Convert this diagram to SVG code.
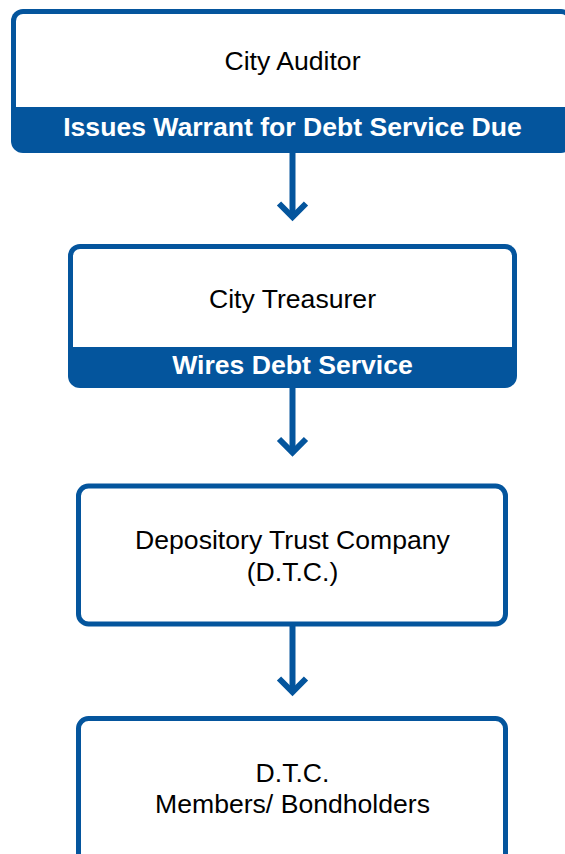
<svg xmlns="http://www.w3.org/2000/svg" width="565" height="854" viewBox="0 0 565 854">
  <defs>
    <style>
      .frame { fill: #04559d; }
      .inner { fill: #ffffff; }
      .box { fill: #ffffff; stroke: #04559d; stroke-width: 5; }
      .t { font-family: "Liberation Sans", Arial, sans-serif; font-size: 26.6px; fill: #000000; text-anchor: middle; }
      .b { font-family: "Liberation Sans", Arial, sans-serif; font-size: 26.6px; font-weight: bold; fill: #ffffff; text-anchor: middle; }
      .conn { stroke: #04559d; stroke-width: 6; fill: none; }
    </style>
    <marker id="chev" markerUnits="userSpaceOnUse" viewBox="-20 -20 40 40" markerWidth="40" markerHeight="40" refX="0" refY="0" orient="auto" overflow="visible">
      <path d="M-13.5,-13.5 L0,0 L-13.5,13.5" fill="none" stroke="#04559d" stroke-width="6" stroke-linejoin="miter"/>
    </marker>
  </defs>
  <rect width="565" height="854" fill="#ffffff"/>

  <g id="connectors">
    <line class="conn" x1="292.5" y1="152" x2="292.5" y2="217" marker-end="url(#chev)"/>
    <line class="conn" x1="292.5" y1="387" x2="292.5" y2="452.5" marker-end="url(#chev)"/>
    <line class="conn" x1="292.5" y1="626" x2="292.5" y2="692" marker-end="url(#chev)"/>
  </g>

  <g id="city-auditor">
    <rect class="frame" x="11" y="9" width="562" height="144" rx="12"/>
    <rect class="inner" x="16" y="14" width="552" height="93" rx="7"/>
    <rect class="inner" x="16" y="97" width="552" height="10"/>
    <text class="t" x="292.5" y="69.5">City Auditor</text>
    <text class="b" x="292.5" y="136">Issues Warrant for Debt Service Due</text>
  </g>

  <g id="city-treasurer">
    <rect class="frame" x="68" y="244" width="449" height="144" rx="12"/>
    <rect class="inner" x="73" y="249" width="439" height="98" rx="7"/>
    <rect class="inner" x="73" y="337" width="439" height="10"/>
    <text class="t" x="292.5" y="307.5">City Treasurer</text>
    <text class="b" x="292.5" y="373.5">Wires Debt Service</text>
  </g>

  <g id="dtc">
    <rect class="box" x="78.5" y="486" width="427" height="138" rx="10"/>
    <text class="t" x="292.5" y="549">Depository Trust Company</text>
    <text class="t" x="292.5" y="581">(D.T.C.)</text>
  </g>

  <g id="dtc-members">
    <rect class="box" x="78.5" y="718.5" width="427" height="170" rx="10"/>
    <text class="t" x="292.5" y="781.5">D.T.C.</text>
    <text class="t" x="292.5" y="813">Members/ Bondholders</text>
  </g>
</svg>
